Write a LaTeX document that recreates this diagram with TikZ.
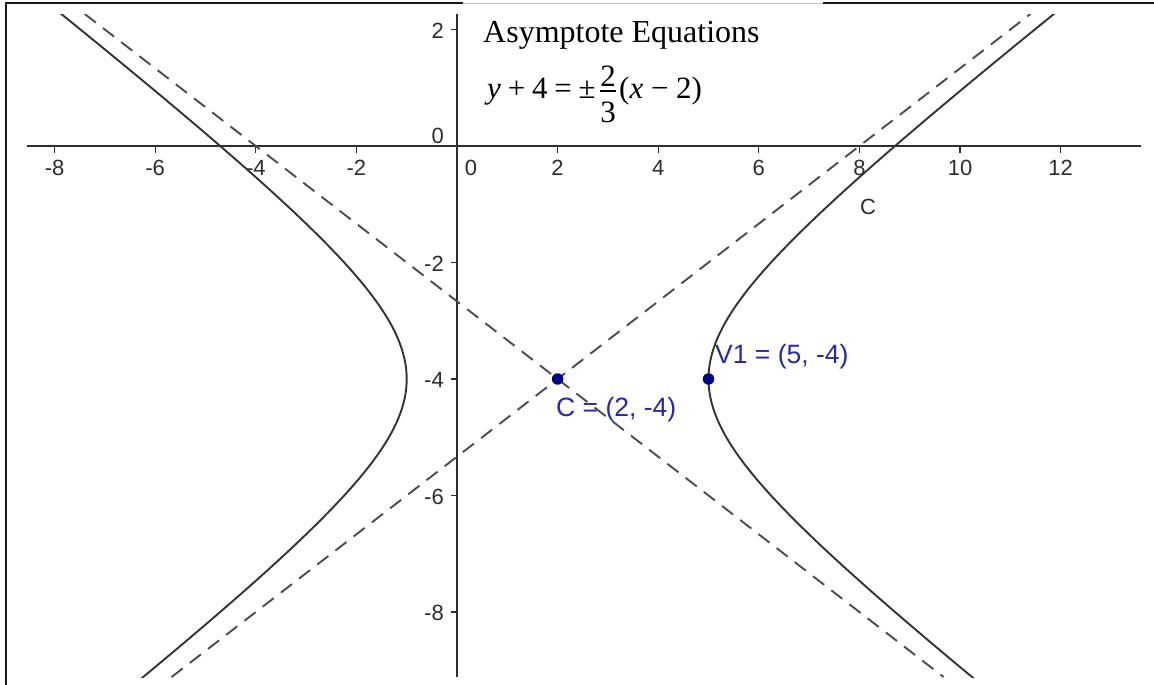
\documentclass[tikz,border=0pt]{standalone}
\usepackage{fontspec}
\setmainfont{Liberation Serif}
\newfontfamily\arialf{Liberation Sans}
\definecolor{ptblue}{RGB}{0,0,135}
\definecolor{lblblue}{RGB}{40,40,170}
\definecolor{axgrey}{RGB}{45,45,45}
\begin{document}
\begin{tikzpicture}[x=1pt,y=-1pt,
  frameline/.style={line width=2pt,black!90},
  axisline/.style={line width=1.8pt,axgrey},
  tickline/.style={line width=1.2pt,axgrey},
  ticklabel/.style={font=\arialf\fontsize{22}{25}\selectfont,text=axgrey,inner sep=0pt},
  curve/.style={line width=1.9pt,black!80},
  asym/.style={line width=1.9pt,black!70,dash pattern=on 14pt off 9pt},
  dot/.style={circle,fill=ptblue,minimum size=11.5pt,inner sep=0pt},
  blabel/.style={font=\arialf\fontsize{26.5}{30}\selectfont,text=lblblue,inner sep=0pt},
  titletext/.style={font=\fontsize{32}{36}\selectfont,inner sep=0pt},
  eqtext/.style={font=\fontsize{31}{36}\selectfont,inner sep=0pt}]
\useasboundingbox (0,0) rectangle (1154,685);
\fill[white] (0,0) rectangle (1154,685);
% frame
\draw[frameline] (5,3.5) -- (463,3.5);
\draw[frameline] (823,3.5) -- (1154,3.5);
\draw[line width=0.8pt,black!25] (463,3) -- (823,3);
\draw[frameline] (6,2.5) -- (6,685);
% axes
\draw[axisline] (27,146) -- (1141,146);
\draw[axisline] (457,14) -- (457,677);
\foreach \v [count=\i] in {-8,-6,-4,-2,2,4,6,8,10,12}{
  \draw[tickline] ({457+50.3*\v},146) -- ++(0,7);
  \node[ticklabel] (xl\i) at ({457+50.3*\v},168) {\v};
}
\node[ticklabel] (xl0) at (471,168) {0};
\foreach \v [count=\i] in {2,-2,-4,-6,-8}{
  \draw[tickline] (457,{146-58.25*\v}) -- ++(-6,0);
  \node[ticklabel,anchor=east] (yl\i) at (444,{147-58.25*\v}) {\v};
}
\node[ticklabel,anchor=east] (yl0) at (444,136) {0};
% curves
\begin{scope}[shift={(457pt,-146pt)},x=50.3pt,y=58.25pt]
  \clip (-8.55,2.266) rectangle (13.6,-9.116);
  \draw[curve] plot[domain=-9.3:2.4,samples=160,variable=\t,smooth]
    ({2+3*sqrt(1+((\t+4)/2)^2)},\t);
  \draw[curve] plot[domain=-9.3:2.4,samples=160,variable=\t,smooth]
    ({2-3*sqrt(1+((\t+4)/2)^2)},\t);
  \coordinate (a1s) at (-5.674,-9.116);
  \coordinate (a1e) at (11.4,2.266);
  \coordinate (a2s) at (-7.4,2.266);
  \coordinate (a2e) at (9.674,-9.116);
  \draw[asym] (a1s) -- (a1e);
  \draw[asym] (a2s) -- (a2e);
\end{scope}
% points and labels
\node[dot] (C) at (557.6,379) {};
\node[dot] (V1) at (708.5,379) {};
\node[blabel,anchor=west] (Clbl) at (556,410) {C = (2, -4)};
\node[blabel,anchor=west] (V1lbl) at (715,357) {V1 = (5, -4)};
\node[ticklabel] (clbl) at (868,207) {C};
% text box
\node[titletext,anchor=base west] (title) at (483,43) {Asymptote Equations};
\node[eqtext,anchor=base west] (eqL) at (487,98)
  {\textit{y}\hspace{.22em}+\hspace{.22em}4\hspace{.22em}=\hspace{.22em}±};
\node[eqtext,anchor=base] (num) at (608,86) {2};
\node[eqtext,anchor=base] (den) at (608,122) {3};
\draw[line width=1.3pt] (600,91) -- (616,91);
\node[eqtext,anchor=base west] (eqR) at (619,98)
  {(\textit{x}\hspace{.25em}−\hspace{.25em}2)};
\end{tikzpicture}
\end{document}
